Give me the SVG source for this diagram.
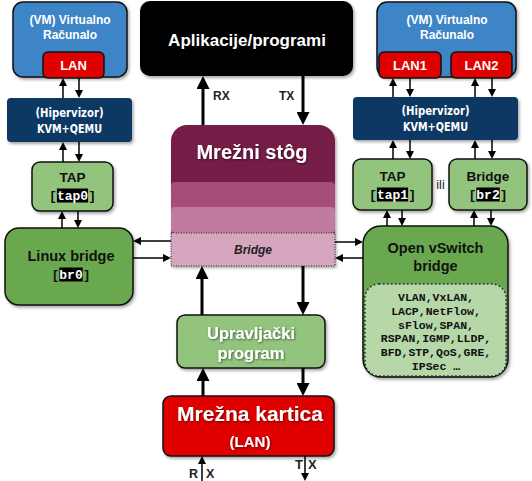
<svg xmlns="http://www.w3.org/2000/svg" width="532" height="481" viewBox="0 0 532 481">
<defs>
<filter id="sh" x="-10%" y="-10%" width="130%" height="140%">
<feDropShadow dx="1.5" dy="2" stdDeviation="1.5" flood-color="#000" flood-opacity="0.35"/>
</filter>
<filter id="tsh" x="-10%" y="-30%" width="130%" height="170%">
<feDropShadow dx="0.8" dy="1" stdDeviation="0.8" flood-color="#000" flood-opacity="0.55"/>
</filter>
<marker id="a" viewBox="0 0 10 10" refX="5" refY="5" markerWidth="8" markerHeight="8" markerUnits="userSpaceOnUse" orient="auto">
<path d="M0,0 L10,5 L0,10 z" fill="#000"/>
</marker>
<marker id="A" viewBox="0 0 10 10" refX="5" refY="5" markerWidth="13" markerHeight="13" markerUnits="userSpaceOnUse" orient="auto">
<path d="M0,0 L10,5 L0,10 z" fill="#000"/>
</marker>
</defs>
<style>
.box{stroke:#111;stroke-width:1.5}
.t{font-family:"Liberation Sans",Arial,Helvetica,sans-serif;font-weight:bold;text-anchor:middle}
.w{fill:#fff}
.k{fill:#111}
.hv{font-family:"DejaVu Sans Condensed","DejaVu Sans",sans-serif;font-weight:bold;font-size:13px;fill:#fff;text-anchor:middle}
.m{font-family:"Liberation Mono","Courier New",monospace;font-weight:bold;font-size:13px}
.hl{fill:#000}
.c{stroke:#000;stroke-width:1.5;fill:none;marker-end:url(#a)}
.C{stroke:#000;stroke-width:3;fill:none;marker-end:url(#A)}
.lt{fill:#93c47d}
.dg{fill:#6aa84f}
.red{fill:#e00000}
.blue{fill:#3d85c6}
.hyp{fill:#073763}
</style>

<!-- Left VM -->
<g id="vm-left">
<rect class="box blue" x="13" y="2" width="114" height="75" rx="10" filter="url(#sh)"/>
<text class="t w" x="70" y="24" font-size="12">(VM) Virtualno</text>
<text class="t w" x="70" y="38.5" font-size="12">Računalo</text>
</g>
<g id="lan-left">
<rect class="box red" x="43" y="52" width="61" height="26" rx="5"/>
<text class="t w" x="73.5" y="70" font-size="13">LAN</text>
</g>
<g id="hyp-left">
<rect class="hyp" x="7" y="98" width="125" height="44" rx="4" filter="url(#sh)"/>
<text class="hv" x="69.5" y="116.5" textLength="68" lengthAdjust="spacingAndGlyphs">(Hipervizor)</text>
<text class="hv" x="69.5" y="133" textLength="65" lengthAdjust="spacingAndGlyphs">KVM+QEMU</text>
</g>
<g id="tap0">
<rect class="box lt" x="32" y="162" width="81" height="49" rx="8" filter="url(#sh)"/>
<text class="t k" x="72.5" y="181.5" font-size="13.5">TAP</text>
<rect class="hl" x="56.9" y="188.5" width="31.2" height="14"/>
<text class="m" x="49.1" y="200" fill="#111">[<tspan fill="#fff">tap0</tspan>]</text>
</g>
<g id="br0">
<rect class="box dg" x="5" y="228" width="128" height="77" rx="14" filter="url(#sh)"/>
<text class="t k" x="71" y="261" font-size="14.5">Linux bridge</text>
<rect class="hl" x="59.3" y="267.5" width="23.4" height="14"/>
<text class="m" x="51.5" y="279" fill="#111">[<tspan fill="#fff">br0</tspan>]</text>
</g>

<!-- Applications -->
<g id="apps">
<rect x="140" y="1" width="213" height="75" rx="10" fill="#000" filter="url(#sh)"/>
<text class="t w" x="247" y="46" font-size="17">Aplikacije/programi</text>
</g>

<!-- Network stack -->
<g id="stack">
<path d="M171,266 V141 A16,16 0 0 1 187,125 H319 A16,16 0 0 1 335,141 V266 Z" fill="#741b47" filter="url(#sh)"/>
<rect x="171" y="182" width="164" height="51" rx="4" fill="#a64d79"/>
<rect x="171" y="207" width="164" height="26" rx="4" fill="#c27ba0"/>
<text class="t w" x="252" y="159" font-size="20" filter="url(#tsh)">Mrežni stôg</text>
</g>
<g id="bridge-layer">
<rect x="171" y="233" width="164" height="33" fill="#d5a6bd" stroke="#222" stroke-width="1" stroke-dasharray="1,1.5"/>
<text class="t" x="253" y="254" font-size="12" font-style="italic" fill="#222">Bridge</text>
</g>

<!-- Control program -->
<g id="ctrl">
<rect class="box lt" x="177" y="315" width="148" height="53" rx="8" filter="url(#sh)"/>
<text class="t w" x="251" y="339" font-size="16.5" filter="url(#tsh)">Upravljački</text>
<text class="t w" x="251" y="359" font-size="16.5" filter="url(#tsh)">program</text>
</g>
<g id="nic">
<rect class="box red" x="163" y="396" width="171" height="60" rx="8" filter="url(#sh)"/>
<text class="t w" x="250" y="420.5" font-size="21" filter="url(#tsh)">Mrežna kartica</text>
<text class="t w" x="250" y="447" font-size="15" filter="url(#tsh)">(LAN)</text>
</g>

<!-- Right VM -->
<g id="vm-right">
<rect class="box blue" x="377" y="2" width="139" height="75" rx="10" filter="url(#sh)"/>
<text class="t w" x="447" y="24" font-size="12">(VM) Virtualno</text>
<text class="t w" x="447" y="38.5" font-size="12">Računalo</text>
</g>
<g id="lan1">
<rect class="box red" x="379" y="52" width="62" height="26" rx="5"/>
<text class="t w" x="410" y="70" font-size="13">LAN1</text>
</g>
<g id="lan2">
<rect class="box red" x="451" y="52" width="61" height="26" rx="5"/>
<text class="t w" x="481.5" y="70" font-size="13">LAN2</text>
</g>
<g id="hyp-right">
<rect class="hyp" x="353" y="97" width="165" height="43" rx="4" filter="url(#sh)"/>
<text class="hv" x="435.5" y="114.5" textLength="68" lengthAdjust="spacingAndGlyphs">(Hipervizor)</text>
<text class="hv" x="435.5" y="131" textLength="65" lengthAdjust="spacingAndGlyphs">KVM+QEMU</text>
</g>
<g id="tap1">
<rect class="box lt" x="353" y="159" width="79" height="51" rx="8" filter="url(#sh)"/>
<text class="t k" x="392.5" y="180.5" font-size="13.5">TAP</text>
<rect class="hl" x="376.9" y="187.5" width="31.2" height="14"/>
<text class="m" x="369.1" y="199" fill="#111">[<tspan fill="#fff">tap1</tspan>]</text>
</g>
<g id="ili">
<text x="440.5" y="189" font-family="Liberation Sans, Arial, sans-serif" font-size="12.5" fill="#222" text-anchor="middle">ili</text>
</g>
<g id="br2">
<rect class="box lt" x="449" y="159" width="78" height="51" rx="8" filter="url(#sh)"/>
<text class="t k" x="488" y="180.5" font-size="13.5">Bridge</text>
<rect class="hl" x="476.3" y="187.5" width="23.4" height="14"/>
<text class="m" x="468.5" y="199" fill="#111">[<tspan fill="#fff">br2</tspan>]</text>
</g>
<g id="ovs">
<rect class="box dg" x="363" y="226" width="145" height="151" rx="18" filter="url(#sh)"/>
<text class="t k" x="435.5" y="253" font-size="14.5">Open vSwitch</text>
<text class="t k" x="435.5" y="271" font-size="14.5">bridge</text>
<rect x="365" y="284" width="141" height="92" rx="14" fill="#b6d7a8" stroke="#222" stroke-width="1.5" stroke-dasharray="1.5,2.5"/>
<g font-family="Liberation Mono, Courier New, monospace" font-weight="bold" font-size="11.5" fill="#111" text-anchor="middle">
<text x="436" y="301">VLAN,VxLAN,</text>
<text x="436" y="315">LACP,NetFlow,</text>
<text x="436" y="328.5">sFlow,SPAN,</text>
<text x="436" y="342">RSPAN,IGMP,LLDP,</text>
<text x="436" y="356">BFD,STP,QoS,GRE,</text>
<text x="436" y="370">IPSec …</text>
</g>
</g>

<!-- Connectors -->
<g id="connectors">
<line class="c" x1="63" y1="98" x2="63" y2="82"/>
<line class="c" x1="79" y1="78" x2="79" y2="94"/>
<line class="c" x1="63" y1="162" x2="63" y2="146"/>
<line class="c" x1="79" y1="142" x2="79" y2="158"/>
<line class="c" x1="62" y1="228" x2="62" y2="215"/>
<line class="c" x1="78" y1="211" x2="78" y2="224"/>
<line class="c" x1="171" y1="241" x2="137" y2="241"/>
<line class="c" x1="133" y1="258" x2="167" y2="258"/>

<line class="c" x1="393" y1="97" x2="393" y2="82"/>
<line class="c" x1="410" y1="78" x2="410" y2="93"/>
<line class="c" x1="475" y1="97" x2="475" y2="82"/>
<line class="c" x1="492" y1="78" x2="492" y2="93"/>
<line class="c" x1="393" y1="159" x2="393" y2="144"/>
<line class="c" x1="410" y1="140" x2="410" y2="155"/>
<line class="c" x1="475" y1="159" x2="475" y2="144"/>
<line class="c" x1="492" y1="140" x2="492" y2="155"/>
<line class="c" x1="387" y1="226" x2="387" y2="214"/>
<line class="c" x1="402" y1="210" x2="402" y2="222"/>
<line class="c" x1="474" y1="226" x2="474" y2="214"/>
<line class="c" x1="491" y1="210" x2="491" y2="222"/>
<line class="c" x1="335" y1="242" x2="359" y2="242"/>
<line class="c" x1="363" y1="258" x2="339" y2="258"/>

<line class="C" x1="203" y1="125" x2="203" y2="82.5"/>
<line class="C" x1="303" y1="76" x2="303" y2="118.5"/>
<line class="C" x1="202" y1="315" x2="202" y2="272.5"/>
<line class="C" x1="303" y1="266" x2="303" y2="308.5"/>
<line class="C" x1="203" y1="396" x2="203" y2="374.5"/>
<line class="C" x1="303" y1="368" x2="303" y2="389.5"/>
<line class="c" x1="202" y1="481" x2="202" y2="460"/>
<line class="c" x1="305" y1="456" x2="305" y2="477"/>
</g>

<!-- Connector labels -->
<g id="labels" font-family="Liberation Sans, Arial, sans-serif" font-weight="bold" fill="#222">
<text x="213" y="99.5" font-size="12">RX</text>
<text x="279" y="99.5" font-size="12">TX</text>
<text x="189" y="478" font-size="12.5">R</text>
<text x="206" y="478" font-size="12.5">X</text>
<text x="295" y="469" font-size="13">T</text>
<text x="308" y="469" font-size="13">X</text>
</g>
</svg>
